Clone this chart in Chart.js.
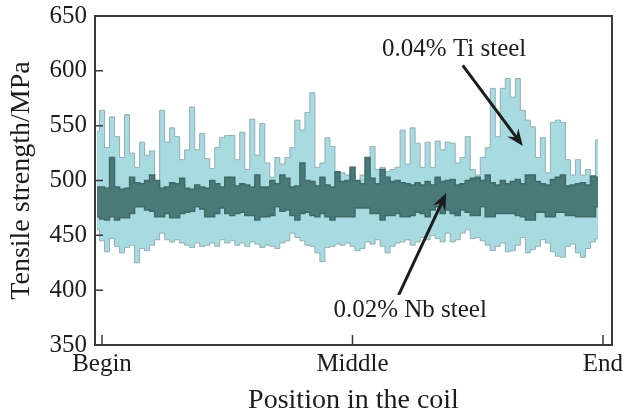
<!DOCTYPE html>
<html>
<head>
<meta charset="utf-8">
<script src="https://cdn.jsdelivr.net/npm/chart.js@4.4.0/dist/chart.umd.min.js"></script>
<style>
  html, body { margin: 0; padding: 0; background: #fff; }
  #wrap { width: 625px; height: 411px; }
</style>
</head>
<body>
<div id="wrap"><canvas id="coilChart" width="625" height="411"></canvas></div>
<script>
// position along the coil, 0 = Begin, 100 = End
var X_TICKS = [0, 50, 100];
var X_LABELS = ['Begin', 'Middle', 'End'];
var Y_TICKS = [350, 400, 450, 500, 550, 600, 650];

// samples are taken every 1 % of coil length, first one at -1
var POS_START = -1;

// 0.04% Ti steel, upper / lower edge of the scatter band (MPa)
var TI_HIGH = [
   545, 564, 530, 558, 540, 521, 560, 525, 512, 535,
   523, 527, 500, 564, 535, 548, 540, 519, 528, 567,
   528, 543, 520, 511, 530, 539, 541, 541, 519, 544,
   510, 556, 523, 552, 516, 503, 521, 515, 521, 530,
   555, 546, 562, 580, 512, 516, 539, 531, 507, 507,
   505, 505, 500, 505, 510, 531, 510, 512, 508, 510,
   512, 546, 515, 548, 534, 512, 535, 512, 536, 528,
   535, 534, 516, 521, 540, 510, 505, 521, 530, 584,
   540, 584, 593, 576, 593, 564, 555, 549, 521, 539,
   507, 553, 555, 553, 519, 505, 519, 505, 510, 500,
   537
];
var TI_LOW = [
   455, 445, 435, 447, 440, 434, 439, 441, 425, 438,
   436, 441, 446, 452, 446, 444, 446, 443, 441, 439,
   443, 440, 441, 443, 440, 446, 443, 445, 441, 443,
   440, 444, 442, 439, 441, 440, 438, 443, 445, 452,
   448, 445, 441, 440, 434, 426, 439, 440, 442, 441,
   443, 440, 436, 438, 444, 442, 446, 440, 434, 440,
   443, 444, 446, 441, 444, 448, 446, 450, 447, 444,
   452, 444, 446, 452, 455, 447, 448, 445, 441, 436,
   440, 443, 435, 436, 441, 448, 434, 437, 440, 446,
   443, 435, 431, 430, 440, 442, 434, 430, 438, 444,
   447
];

// 0.02% Nb steel
var NB_HIGH = [
   494, 494, 493, 521, 494, 492, 493, 503, 498, 497,
   500, 505, 500, 493, 494, 498, 497, 502, 493, 492,
   496, 494, 493, 500, 497, 494, 503, 503, 495, 497,
   496, 494, 505, 494, 494, 500, 497, 505, 502, 494,
   495, 516, 500, 499, 495, 503, 496, 494, 508, 499,
   500, 512, 500, 497, 521, 502, 497, 510, 503, 499,
   500, 498, 497, 496, 498, 496, 499, 496, 503, 499,
   500, 501, 496, 497, 500, 502, 503, 500, 505, 498,
   496, 500, 497, 499, 501, 497, 505, 505, 499, 497,
   496, 501, 503, 505, 495, 496, 497, 498, 496, 504,
   503
];
var NB_LOW = [
   467, 465, 464, 467, 464, 466, 466, 470, 476, 476,
   473, 472, 467, 467, 470, 466, 466, 470, 471, 472,
   476, 474, 467, 467, 470, 475, 470, 468, 470, 471,
   468, 468, 464, 467, 467, 468, 476, 472, 473, 468,
   464, 470, 471, 468, 467, 470, 467, 464, 467, 467,
   467, 467, 475, 475, 475, 470, 470, 464, 468, 468,
   470, 467, 467, 468, 471, 470, 467, 473, 476, 470,
   473, 470, 468, 473, 471, 468, 468, 476, 467, 467,
   470, 470, 470, 470, 468, 467, 464, 464, 471, 471,
   467, 467, 471, 471, 468, 468, 467, 467, 467, 467,
   476
];

// callouts, in data units
var NOTES = [
   { text: '0.04% Ti steel', at: [70.3, 620], from: [72, 605], to: [84, 531.5] },
   { text: '0.02% Nb steel', at: [61.5, 382], from: [59, 393.5], to: [68.7, 488.5] }
];

var SERIF = "'Liberation Serif', 'Times New Roman', serif";
var INK = '#1c1c1c';

function toPoints(arr) {
   return arr.map(function(v, k) { return { x: POS_START + k, y: v }; });
}

function band(values, fill, edge, width, order, fillPrev) {
   return {
      data: toPoints(values),
      borderColor: edge,
      borderWidth: width,
      backgroundColor: fill,
      fill: fillPrev ? '-1' : false,
      stepped: 'middle',
      pointRadius: 0,
      order: order
   };
}

function arrow(ctx, x1, y1, x2, y2) {
   var ang = Math.atan2(y2 - y1, x2 - x1);
   var len = 17, half = 7;
   var bx = x2 - len * Math.cos(ang), by = y2 - len * Math.sin(ang);
   ctx.beginPath();
   ctx.moveTo(x1, y1);
   ctx.lineTo(x2 - 8 * Math.cos(ang), y2 - 8 * Math.sin(ang));
   ctx.stroke();
   ctx.beginPath();
   ctx.moveTo(x2, y2);
   ctx.lineTo(bx + half * Math.sin(ang), by - half * Math.cos(ang));
   ctx.lineTo(x2 - 11 * Math.cos(ang), y2 - 11 * Math.sin(ang));
   ctx.lineTo(bx - half * Math.sin(ang), by + half * Math.cos(ang));
   ctx.closePath();
   ctx.fill();
}

var framePlugin = {
   id: 'frameAndNotes',
   afterDatasetsDraw: function(chart) {
      var ctx = chart.ctx, area = chart.chartArea;
      var xs = chart.scales.x, ys = chart.scales.y;
      ctx.save();

      // box round the plot with inward ticks
      ctx.strokeStyle = '#3a3a3a';
      ctx.lineWidth = 2;
      ctx.strokeRect(area.left, area.top, area.right - area.left, area.bottom - area.top);
      ctx.lineWidth = 1.5;
      ctx.beginPath();
      Y_TICKS.forEach(function(v) {
         var y = ys.getPixelForValue(v);
         ctx.moveTo(area.left, y);
         ctx.lineTo(area.left + 8, y);
      });
      X_TICKS.forEach(function(v) {
         var x = xs.getPixelForValue(v);
         ctx.moveTo(x, area.bottom);
         ctx.lineTo(x, area.bottom - 10);
      });
      ctx.stroke();

      // callouts
      ctx.font = '25px ' + SERIF;
      ctx.textAlign = 'center';
      ctx.textBaseline = 'middle';
      NOTES.forEach(function(n) {
         var x1 = xs.getPixelForValue(n.from[0]), y1 = ys.getPixelForValue(n.from[1]);
         var x2 = xs.getPixelForValue(n.to[0]), y2 = ys.getPixelForValue(n.to[1]);
         ctx.strokeStyle = INK;
         ctx.fillStyle = INK;
         ctx.lineWidth = 3;
         arrow(ctx, x1, y1, x2, y2);

         var tx = xs.getPixelForValue(n.at[0]), ty = ys.getPixelForValue(n.at[1]);
         var w = ctx.measureText(n.text).width;
         ctx.fillStyle = '#ffffff';
         ctx.fillRect(tx - w / 2 - 6, ty - 15, w + 12, 30);
         ctx.fillStyle = INK;
         ctx.fillText(n.text, tx, ty + 1);
      });
      ctx.restore();
   }
};

new Chart(document.getElementById('coilChart'), {
   type: 'line',
   data: {
      datasets: [
         band(NB_LOW, '#4b7977', '#3f6a68', 1.5, 0, false),
         band(NB_HIGH, '#4b7977', '#3f6a68', 1.5, 0, true),
         band(TI_LOW, '#a7dbe1', '#93aeb2', 1, 1, false),
         band(TI_HIGH, '#a7dbe1', '#93aeb2', 1, 1, true)
      ]
   },
   options: {
      responsive: false,
      animation: false,
      events: [],
      layout: { padding: { top: 16, right: 13, left: 0, bottom: 0 } },
      plugins: { legend: { display: false }, tooltip: { enabled: false } },
      scales: {
         x: {
            type: 'linear',
            min: -1.4,
            max: 101.8,
            afterBuildTicks: function(scale) {
               scale.ticks = X_TICKS.map(function(v) { return { value: v }; });
            },
            afterFit: function(scale) {
               scale.height = 66;
               scale.paddingLeft = 0;
               scale.paddingRight = 0;
            },
            grid: { display: false, drawTicks: false },
            border: { display: false },
            ticks: {
               padding: 4,
               maxRotation: 0,
               autoSkip: false,
               color: INK,
               font: { family: SERIF, size: 25 },
               callback: function(v) {
                  var k = X_TICKS.indexOf(v);
                  return k < 0 ? '' : X_LABELS[k];
               }
            },
            title: {
               display: true,
               text: 'Position in the coil',
               color: INK,
               font: { family: SERIF, size: 28 },
               padding: { top: 0, bottom: -6 }
            }
         },
         y: {
            min: 350,
            max: 650,
            afterBuildTicks: function(scale) {
               scale.ticks = Y_TICKS.map(function(v) { return { value: v }; });
            },
            afterFit: function(scale) {
               scale.width = 95;
               scale.paddingTop = 0;
               scale.paddingBottom = 0;
            },
            grid: { display: false, drawTicks: false },
            border: { display: false },
            ticks: {
               padding: 8,
               color: INK,
               font: { family: SERIF, size: 25 }
            },
            title: {
               display: true,
               text: 'Tensile strength/MPa',
               color: INK,
               font: { family: SERIF, size: 28 },
               padding: { top: 5, bottom: 0 }
            }
         }
      }
   },
   plugins: [framePlugin]
});
</script>
</body>
</html>
